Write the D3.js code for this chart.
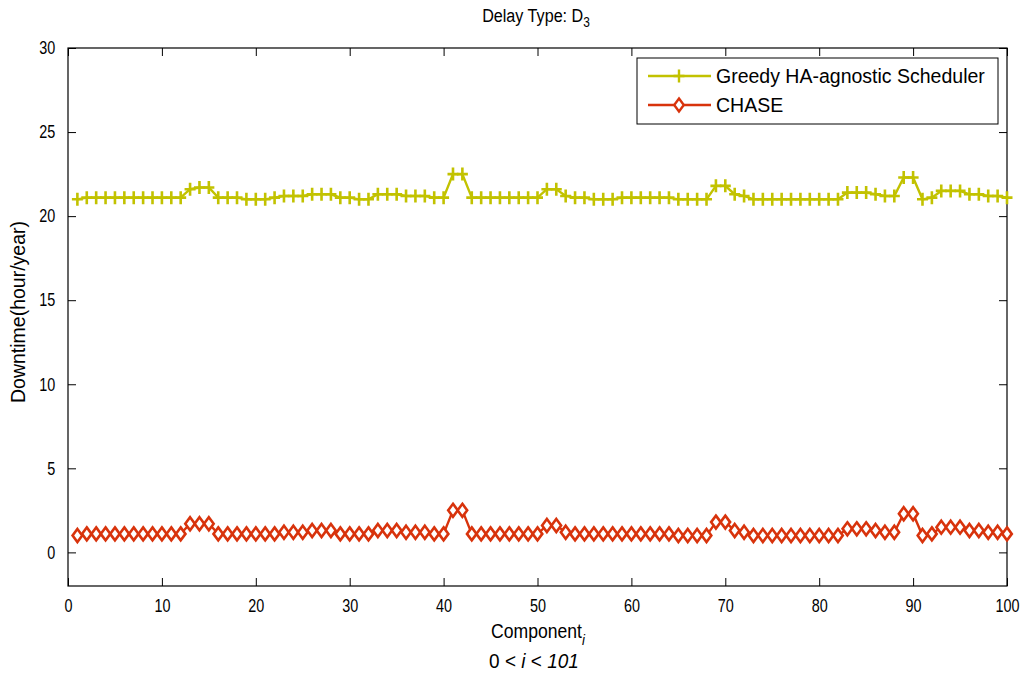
<!DOCTYPE html>
<html>
<head>
<meta charset="utf-8" />
<script src="https://cdnjs.cloudflare.com/ajax/libs/d3/7.8.5/d3.min.js"></script>
<style>
  body { margin: 0; background: #fff; }
  .tick text { font-family: 'Liberation Sans', Arial, sans-serif; font-size: 18px; fill: #000; }
  .lbl { font-family: 'Liberation Sans', Arial, sans-serif; font-size: 18px; fill: #000; }
  .legend text { font-family: 'Liberation Sans', Arial, sans-serif; font-size: 19.5px; fill: #000; }
</style>
</head>
<body>
<script>
// component index 1..100
const components = d3.range(1, 101);

const greedy = [
  21.0, 21.1, 21.1, 21.1, 21.1, 21.1, 21.1, 21.1, 21.1, 21.1,
  21.1, 21.1, 21.6, 21.7, 21.7, 21.1, 21.1, 21.1, 21.0, 21.0,
  21.0, 21.1, 21.2, 21.2, 21.2, 21.3, 21.3, 21.3, 21.1, 21.1,
  21.0, 21.0, 21.3, 21.3, 21.3, 21.2, 21.2, 21.2, 21.1, 21.1,
  22.5, 22.5, 21.1, 21.1, 21.1, 21.1, 21.1, 21.1, 21.1, 21.1,
  21.6, 21.6, 21.2, 21.1, 21.1, 21.0, 21.0, 21.0, 21.1, 21.1,
  21.1, 21.1, 21.1, 21.1, 21.0, 21.0, 21.0, 21.0, 21.8, 21.8,
  21.3, 21.2, 21.0, 21.0, 21.0, 21.0, 21.0, 21.0, 21.0, 21.0,
  21.0, 21.0, 21.4, 21.4, 21.4, 21.3, 21.2, 21.2, 22.3, 22.3,
  21.0, 21.1, 21.5, 21.5, 21.5, 21.3, 21.3, 21.2, 21.2, 21.1
];

const chase = [
  1.0, 1.1, 1.1, 1.1, 1.1, 1.1, 1.1, 1.1, 1.1, 1.1,
  1.1, 1.1, 1.7, 1.7, 1.7, 1.1, 1.1, 1.1, 1.1, 1.1,
  1.1, 1.1, 1.2, 1.2, 1.2, 1.3, 1.3, 1.3, 1.1, 1.1,
  1.1, 1.1, 1.3, 1.3, 1.3, 1.2, 1.2, 1.2, 1.1, 1.1,
  2.5, 2.5, 1.1, 1.1, 1.1, 1.1, 1.1, 1.1, 1.1, 1.1,
  1.6, 1.6, 1.2, 1.1, 1.1, 1.1, 1.1, 1.1, 1.1, 1.1,
  1.1, 1.1, 1.1, 1.1, 1.0, 1.0, 1.0, 1.0, 1.8, 1.8,
  1.3, 1.2, 1.0, 1.0, 1.0, 1.0, 1.0, 1.0, 1.0, 1.0,
  1.0, 1.0, 1.4, 1.4, 1.4, 1.3, 1.2, 1.2, 2.3, 2.3,
  1.0, 1.1, 1.5, 1.5, 1.5, 1.3, 1.3, 1.2, 1.2, 1.1
];

const xTicks = [0, 10, 20, 30, 40, 50, 60, 70, 80, 90, 100];
const yTicks = [0, 5, 10, 15, 20, 25, 30];
const seriesNames = ["Greedy HA-agnostic Scheduler", "CHASE"];

const W = 1026, H = 677;
const mLeft = 68, mRight = 1007, mTop = 48, mBottom = 586;
const narrow = 0.8; // matlab's screen font is condensed

const svg = d3.select("body").append("svg")
  .attr("width", W).attr("height", H);

const x = d3.scaleLinear().domain([0, 100]).range([mLeft, mRight]);
const y = d3.scaleLinear().domain([-2, 30]).range([mBottom, mTop]);

// axes, matlab style: ticks inside, box on
function styleAxis(g) {
  g.select(".domain").remove();
  g.selectAll(".tick line").attr("stroke", "#000");
}
svg.append("g").attr("transform", `translate(0,${mBottom})`)
  .call(d3.axisBottom(x).tickValues(xTicks).tickSizeInner(-8).tickSizeOuter(0).tickPadding(13))
  .call(styleAxis)
  .selectAll(".tick text").attr("transform", `scale(${narrow},1)`);
svg.append("g").attr("transform", `translate(0,${mTop})`)
  .call(d3.axisTop(x).tickValues(xTicks).tickSizeInner(-8).tickSizeOuter(0).tickFormat(""))
  .call(styleAxis);
svg.append("g").attr("transform", `translate(${mLeft},0)`)
  .call(d3.axisLeft(y).tickValues(yTicks).tickSizeInner(-8).tickSizeOuter(0).tickPadding(16))
  .call(styleAxis)
  .selectAll(".tick text").attr("transform", `scale(${narrow},1)`);
svg.append("g").attr("transform", `translate(${mRight},0)`)
  .call(d3.axisRight(y).tickValues(yTicks).tickSizeInner(-8).tickSizeOuter(0).tickFormat(""))
  .call(styleAxis);

svg.append("rect")
  .attr("x", mLeft).attr("y", mTop)
  .attr("width", mRight - mLeft).attr("height", mBottom - mTop)
  .attr("fill", "none").attr("stroke", "#000").attr("stroke-width", 1.2);

const line = d3.line().x((d, i) => x(components[i])).y(d => y(d));
const cGreedy = "#c2c200", cChase = "#d8330c";
const plusPath = "M-5.5,0H5.5M0,-6.5V6.5";
const diamondPath = "M0,-6.5L4.8,0L0,6.5L-4.8,0Z";

// greedy
svg.append("path").datum(greedy)
  .attr("d", line).attr("fill", "none").attr("stroke", cGreedy).attr("stroke-width", 2.4);
svg.append("g").selectAll("path").data(greedy).join("path")
  .attr("transform", (d, i) => `translate(${x(components[i])},${y(d)})`)
  .attr("d", plusPath)
  .attr("stroke", cGreedy).attr("stroke-width", 2.6).attr("fill", "none");

// chase
svg.append("path").datum(chase)
  .attr("d", line).attr("fill", "none").attr("stroke", cChase).attr("stroke-width", 2.4);
svg.append("g").selectAll("path").data(chase).join("path")
  .attr("transform", (d, i) => `translate(${x(components[i])},${y(d)})`)
  .attr("d", diamondPath)
  .attr("stroke", cChase).attr("stroke-width", 2.6).attr("fill", "#fff");

// centred text helper, condensed around its own anchor
function label(cx, cy, size, sx) {
  return svg.append("g").attr("transform", `translate(${cx},${cy}) scale(${sx},1)`)
    .append("text").attr("class", "lbl").attr("text-anchor", "middle").style("font-size", size + "px");
}

// title
const title = label(536, 22, 19, 0.85);
title.append("tspan").text("Delay Type: D");
title.append("tspan").attr("dy", 5).style("font-size", "14px").text("3");

// x label
const xl = label(538, 638, 20, 0.88);
xl.append("tspan").text("Component");
xl.append("tspan").attr("dy", 7).style("font-size", "15px").style("font-style", "italic").text("i");

const xl2 = label(534, 668, 20, 0.95);
xl2.append("tspan").text("0 < ");
xl2.append("tspan").style("font-style", "italic").text("i");
xl2.append("tspan").text(" < ");
xl2.append("tspan").style("font-style", "italic").text("101");

// y label
svg.append("text").attr("class", "lbl")
  .attr("transform", `translate(25,312) rotate(-90)`)
  .attr("text-anchor", "middle").style("font-size", "19.5px").text("Downtime(hour/year)");

// legend
const lg = svg.append("g").attr("class", "legend");
lg.append("rect").attr("x", 637).attr("y", 58).attr("width", 361).attr("height", 66)
  .attr("fill", "#fff").attr("stroke", "#000").attr("stroke-width", 1);
const rows = [
  { name: seriesNames[0], c: cGreedy, m: plusPath, fill: "none" },
  { name: seriesNames[1], c: cChase, m: diamondPath, fill: "#fff" }
];
rows.forEach((r, k) => {
  const yy = 76 + k * 29;
  lg.append("line").attr("x1", 648).attr("x2", 711).attr("y1", yy).attr("y2", yy)
    .attr("stroke", r.c).attr("stroke-width", 2.4);
  lg.append("path").attr("transform", `translate(679,${yy})`).attr("d", r.m)
    .attr("stroke", r.c).attr("stroke-width", 2.4).attr("fill", r.fill);
  lg.append("text").attr("x", 716).attr("y", yy + 7).text(r.name);
});
</script>
</body>
</html>
